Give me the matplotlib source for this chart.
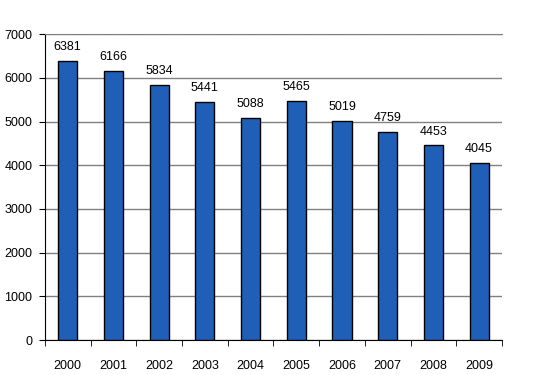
import matplotlib
matplotlib.use("Agg")
import matplotlib.pyplot as plt

years = ["2000", "2001", "2002", "2003", "2004", "2005", "2006", "2007", "2008", "2009"]
values = [6381, 6166, 5834, 5441, 5088, 5465, 5019, 4759, 4453, 4045]

plt.rcParams['font.family'] = ['Liberation Sans', 'DejaVu Sans']

fig = plt.figure(figsize=(5.34, 3.75), dpi=100)
ax = fig.add_axes([0.084, 0.093, 0.856, 0.816])

x = list(range(len(years)))
ax.bar(x, values, width=0.42, color="#1f5fb8", edgecolor="black", linewidth=1.0, zorder=3)
for xi, v in zip(x, values):
    ax.text(xi, v + 180, str(v), ha="center", va="bottom", fontsize=9, color="black")

ax.set_xlim(-0.5, len(years) - 0.5)
ax.set_ylim(0, 7000)
ax.set_yticks(range(0, 7001, 1000))
ax.set_yticklabels([str(v) for v in range(0, 7001, 1000)], fontsize=9)
ax.yaxis.grid(True, color="#808080", linewidth=1.0, zorder=0)
ax.set_axisbelow(True)

ax.set_xticks(x)
ax.set_xticklabels(years, fontsize=9)
ax.tick_params(axis="x", length=0, pad=14)
ax.set_xticks([i - 0.5 for i in range(len(years) + 1)], minor=True)
ax.tick_params(axis="x", which="minor", length=4, direction="out", color="black")
ax.tick_params(axis="y", length=4, direction="out", color="black", pad=5)

ax.spines["right"].set_visible(False)
ax.spines["top"].set_color("#808080")
ax.spines["top"].set_linestyle(":")
ax.spines["left"].set_color("black")
ax.spines["bottom"].set_color("black")

fig.savefig("out.png", dpi=100)
